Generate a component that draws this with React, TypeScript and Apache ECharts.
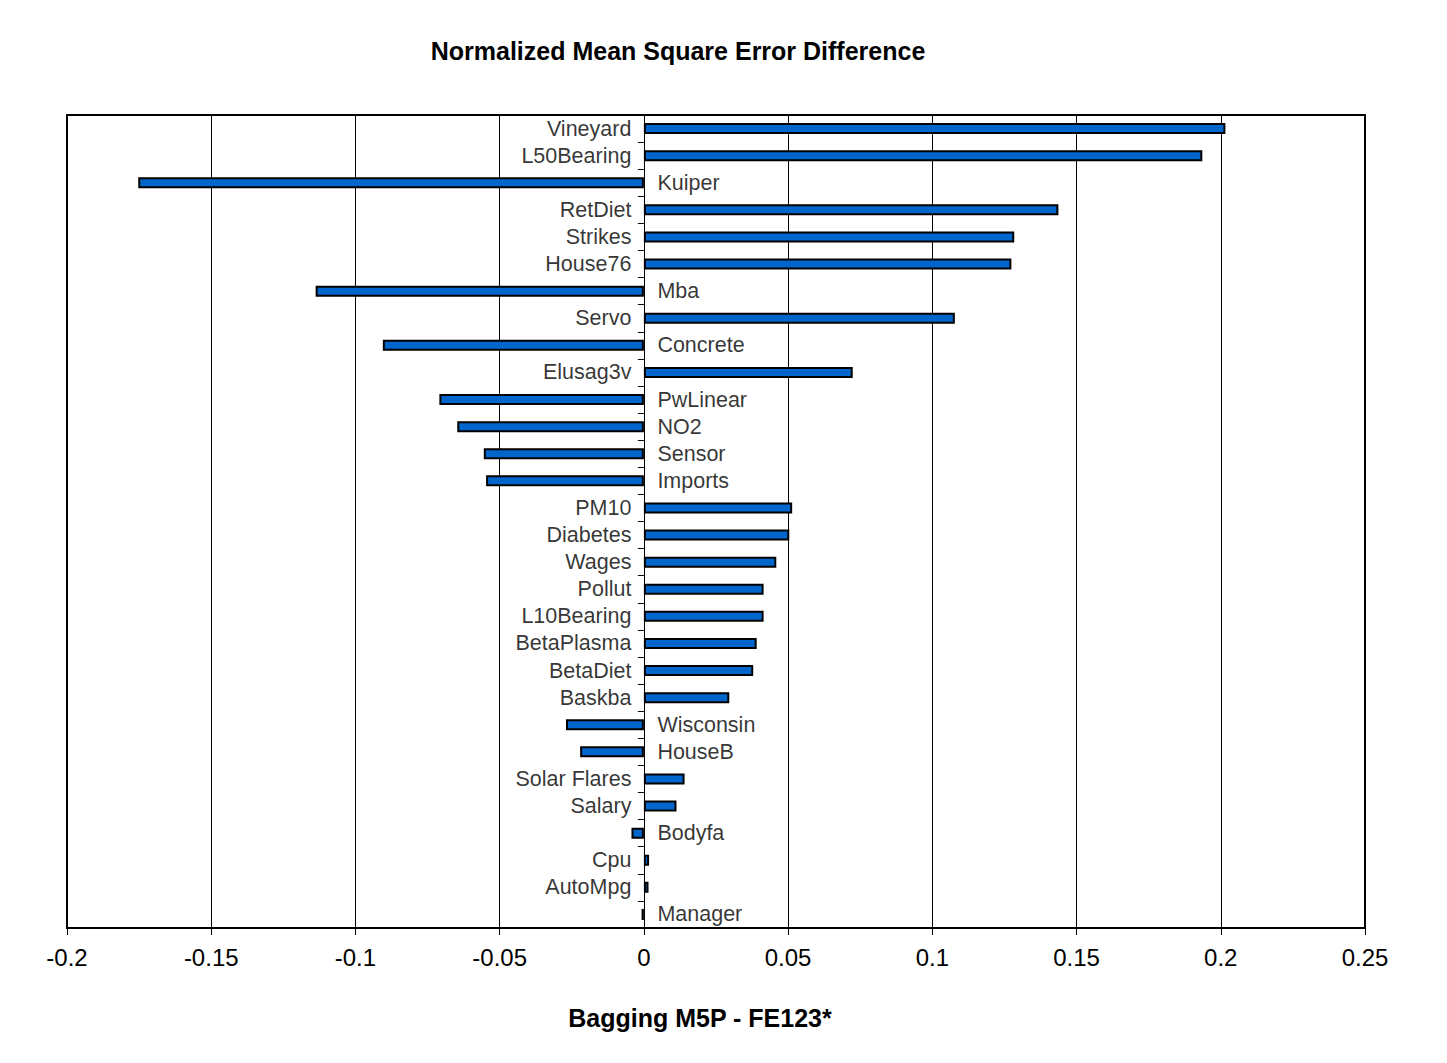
import React, { useEffect, useRef } from "react";
import * as echarts from "echarts";

const categories: string[] = [
  "Vineyard", "L50Bearing", "Kuiper", "RetDiet", "Strikes", "House76", "Mba", "Servo",
  "Concrete", "Elusag3v", "PwLinear", "NO2", "Sensor", "Imports", "PM10", "Diabetes",
  "Wages", "Pollut", "L10Bearing", "BetaPlasma", "BetaDiet", "Baskba", "Wisconsin",
  "HouseB", "Solar Flares", "Salary", "Bodyfa", "Cpu", "AutoMpg", "Manager",
];

const values: number[] = [
  0.2016, 0.1936, -0.1753, 0.1437, 0.1284, 0.1274, -0.1138, 0.1078,
  -0.0905, 0.0724, -0.0709, -0.0647, -0.0555, -0.0547, 0.0514, 0.0504,
  0.0459, 0.0415, 0.0415, 0.0391, 0.0379, 0.0296, -0.0270,
  -0.0221, 0.0141, 0.0113, -0.0043, 0.0018, 0.0016, -0.0008,
];

const xMin = -0.2;
const xMax = 0.25;
const xInterval = 0.05;

const titleText = "Normalized Mean Square Error Difference";
const xAxisTitle = "Bagging M5P - FE123*";

const FONT = "Arial, 'Liberation Sans', Helvetica, sans-serif";

export default function App() {
  const ref = useRef<HTMLDivElement>(null);

  useEffect(() => {
    document.body.style.margin = "0";
    if (!ref.current) return;
    const chart = echarts.init(ref.current, undefined, { renderer: "svg" });
    const option: any = {
      animation: false,
      backgroundColor: "#ffffff",
      textStyle: { fontFamily: FONT },
      grid: {
        left: 67,
        right: 82,
        top: 115,
        bottom: 135,
        show: true,
        borderColor: "#000",
        borderWidth: 2,
        backgroundColor: "transparent",
      },
      xAxis: {
        type: "value",
        min: xMin,
        max: xMax,
        interval: xInterval,
        axisLine: { show: true, onZero: false, lineStyle: { color: "#000", width: 2 } },
        axisTick: { show: true, length: 7, lineStyle: { color: "#000", width: 1 } },
        axisLabel: {
          color: "#000",
          fontSize: 24,
          fontFamily: FONT,
          margin: 17,
        },
        splitLine: { show: true, lineStyle: { color: "#000", width: 1 } },
      },
      yAxis: {
        type: "category",
        data: categories,
        inverse: true,
        axisLine: { show: true, onZero: true, lineStyle: { color: "#000", width: 1 } },
        axisTick: { show: true, length: 6, inside: false, lineStyle: { color: "#000", width: 1 } },
        axisLabel: { show: false },
        splitLine: { show: false },
      },
      series: [
        {
          type: "bar",
          data: values,
          barWidth: 11,
          itemStyle: { color: "#0066CC", borderColor: "#000", borderWidth: 2 },
          silent: true,
          z: 2,
        },
        {
          type: "scatter",
          data: categories.map((c, i) => ({
            name: c,
            value: [0, c],
            label: {
              position: values[i] >= 0 ? "left" : "right",
              distance: values[i] >= 0 ? 12 : 13,
            },
          })),
          symbolSize: 1,
          itemStyle: { color: "transparent" },
          silent: true,
          z: 3,
          label: {
            show: true,
            formatter: "{b}",
            color: "#000",
            fontSize: 21.5,
            fontFamily: FONT,
            padding: [2, 0, 0, 0],
          },
        },
      ],
      graphic: [
        {
          type: "text",
          x: 678,
          y: 51,
          style: {
            text: titleText,
            fill: "#000",
            font: `bold 25px ${FONT}`,
            textAlign: "center",
            textVerticalAlign: "middle",
          },
        },
        {
          type: "text",
          x: 700,
          y: 1018,
          style: {
            text: xAxisTitle,
            fill: "#000",
            font: `bold 25px ${FONT}`,
            textAlign: "center",
            textVerticalAlign: "middle",
          },
        },
      ],
    };
    chart.setOption(option);
    return () => chart.dispose();
  }, []);

  return (
    <div
      ref={ref}
      style={{ position: "absolute", left: 0, top: 0, width: 1447, height: 1063, background: "#fff" }}
    />
  );
}
